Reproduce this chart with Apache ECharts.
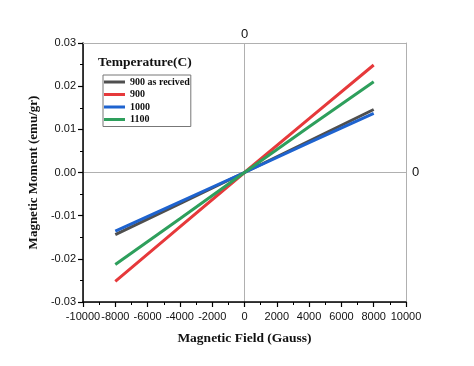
<!DOCTYPE html>
<html><head><meta charset="utf-8">
<script src="https://cdn.jsdelivr.net/npm/echarts@6/dist/echarts.min.js"></script>
<style>html,body{margin:0;padding:0;background:#fff}#c{width:474px;height:366px}</style>
</head><body><div id="c"></div>
<script>
var fields = [-8000, -4000, 0, 4000, 8000];
var seriesNames = ['900 as recived', '900', '1000', '1100'];
var grey900asReceived = [-0.0144, -0.0072, 0, 0.0073, 0.0146];
var red900 = [-0.0252, -0.0126, 0, 0.0125, 0.0249];
var blue1000 = [-0.0136, -0.0068, 0, 0.0069, 0.0137];
var green1100 = [-0.0213, -0.0107, 0, 0.0106, 0.0210];
var xTicks = {min: -10000, max: 10000, interval: 2000};
var yTicks = {min: -0.03, max: 0.03, interval: 0.01};
var colors = ['#4f4f4f', '#e6393b', '#1e63cf', '#2e9f5c'];
var values = [grey900asReceived, red900, blue1000, green1100];

function pairs(v){ return fields.map(function(x,i){ return [x, v[i]]; }); }
var serif = '"Liberation Serif", "Times New Roman", serif';
var sans = '"Liberation Sans", Arial, sans-serif';

var chart = echarts.init(document.getElementById('c'));
chart.setOption({
  animation: false,
  backgroundColor: '#fff',
  grid: {left: 83, right: 68, top: 43, bottom: 64},
  title: {text: 'Temperature(C)', left: 98, top: 56,
    textStyle: {fontFamily: serif, fontWeight: 'bold', fontSize: 13.5, color: '#111'}, padding: 0},
  legend: {
    orient: 'vertical', left: 103, top: 75,
    data: seriesNames, icon: 'rect', itemWidth: 21, itemHeight: 3, itemGap: 0.5, itemTextGap: 3,
    borderColor: '#777', borderWidth: 1, padding: [1, 1, 1, 1],
    textStyle: {fontFamily: serif, fontWeight: 'bold', fontSize: 10, color: '#111', lineHeight: 12}
  },
  xAxis: [{
    type: 'value', min: xTicks.min, max: xTicks.max, interval: xTicks.interval,
    position: 'bottom',
    axisLine: {onZero: false, lineStyle: {color: '#000', width: 1.5}},
    axisTick: {inside: false, length: 5, lineStyle: {color: '#000', width: 1.2}},
    minorTick: {show: true, splitNumber: 2, length: 3, lineStyle: {color: '#000', width: 1}},
    axisLabel: {fontFamily: sans, fontSize: 11, color: '#111', margin: 9,
      showMinLabel: true, showMaxLabel: true, hideOverlap: false,
      formatter: function(v){ return String(v); }},
    splitLine: {show: false},
    name: 'Magnetic Field (Gauss)', nameLocation: 'middle', nameGap: 30,
    nameTextStyle: {fontFamily: serif, fontWeight: 'bold', fontSize: 13.5, color: '#111'}
  }, {
    type: 'value', min: xTicks.min, max: xTicks.max, interval: 10000, position: 'top',
    axisLine: {onZero: false, lineStyle: {color: '#b0b0b0', width: 1}},
    axisTick: {show: false},
    axisLabel: {fontFamily: sans, fontSize: 13, color: '#111', margin: 2,
      formatter: function(v){ return v === 0 ? '0' : ''; }},
    splitLine: {show: true, lineStyle: {color: '#b0b0b0', width: 1}}
  }],
  yAxis: [{
    type: 'value', min: yTicks.min, max: yTicks.max, interval: yTicks.interval,
    position: 'left',
    axisLine: {onZero: false, lineStyle: {color: '#000', width: 1.5}},
    axisTick: {inside: false, length: 5, lineStyle: {color: '#000', width: 1.2}},
    minorTick: {show: true, splitNumber: 2, length: 3, lineStyle: {color: '#000', width: 1}},
    axisLabel: {fontFamily: sans, fontSize: 11, color: '#111', margin: 7,
      showMinLabel: true, showMaxLabel: true,
      formatter: function(v){ return v.toFixed(2); }},
    splitLine: {show: false},
    name: 'Magnetic Moment (emu/gr)', nameLocation: 'middle', nameGap: 43, nameRotate: 90,
    nameTextStyle: {fontFamily: serif, fontWeight: 'bold', fontSize: 13, color: '#111'}
  }, {
    type: 'value', min: yTicks.min, max: yTicks.max, interval: 0.03, position: 'right',
    axisLine: {onZero: false, lineStyle: {color: '#b0b0b0', width: 1}},
    axisTick: {show: false},
    axisLabel: {fontFamily: sans, fontSize: 13, color: '#111', margin: 6,
      formatter: function(v){ return Math.abs(v) < 1e-9 ? '0' : ''; }},
    splitLine: {show: true, lineStyle: {color: '#b0b0b0', width: 1}}
  }],
  series: seriesNames.map(function(n, i){
    return {
      name: n, type: 'line', xAxisIndex: 0, yAxisIndex: 0,
      data: pairs(values[i]), showSymbol: false, symbol: 'none',
      lineStyle: {color: colors[i], width: 3}, itemStyle: {color: colors[i]},
      z: 3 + i
    };
  })
});
</script></body></html>
